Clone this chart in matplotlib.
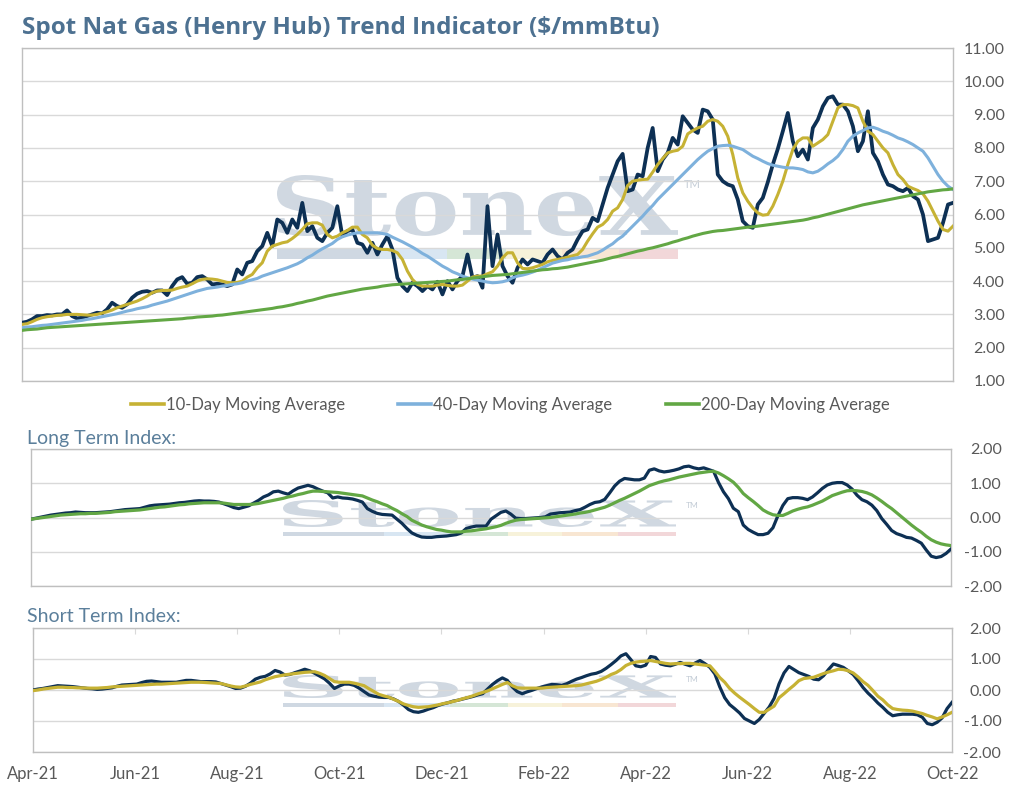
import numpy as np
import matplotlib
matplotlib.use("Agg")
import matplotlib.pyplot as plt
from matplotlib.textpath import TextPath
from matplotlib.patches import PathPatch, Rectangle
from matplotlib.font_manager import FontProperties
from matplotlib.transforms import Affine2D
from matplotlib.lines import Line2D
from matplotlib.ticker import FormatStrFormatter

# ---------------- data ----------------
month_labels = ["Apr-21", "Jun-21", "Aug-21", "Oct-21", "Dec-21", "Feb-22",
                "Apr-22", "Jun-22", "Aug-22", "Oct-22"]

spot = [
    2.75, 2.78, 2.85, 2.95, 2.95, 2.98, 2.97, 3.0, 3.0, 3.12,
    2.95, 2.88, 2.9, 2.95, 3.0, 3.05, 3.03, 3.15, 3.35, 3.25,
    3.2, 3.3, 3.5, 3.62, 3.68, 3.7, 3.65, 3.72, 3.72, 3.58,
    3.85, 4.05, 4.12, 3.92, 3.95, 4.12, 4.15, 4.05, 3.9, 3.92,
    3.9, 3.85, 3.9, 4.35, 4.2, 4.55, 4.6, 4.9, 5.05, 5.45,
    5.05, 5.85, 5.75, 5.45, 5.85, 5.6, 6.35, 5.5, 5.65, 5.3,
    5.2, 5.45, 5.6, 6.25, 5.35, 5.5, 5.55, 5.15, 5.1, 4.85,
    5.15, 4.8, 5.1, 5.35, 4.95, 4.1, 3.85, 3.7, 3.95, 3.85,
    3.7, 3.85, 3.75, 3.98, 3.6, 4.0, 3.75, 4.0, 4.15, 4.8,
    4.1, 4.15, 3.8, 6.25, 4.45, 5.4, 4.45, 4.15,
    3.95, 4.4, 4.65, 4.5, 4.65, 4.6, 4.55, 4.8, 4.95, 4.75,
    4.65, 4.85, 4.95, 5.25, 5.5, 5.55, 5.9, 5.8, 6.3, 6.8,
    7.2, 7.6, 7.82, 6.7, 6.75, 7.2, 7.15, 8.0, 8.6, 7.3,
    7.65, 7.85, 8.3, 8.1, 8.95, 8.75, 8.55, 8.45, 9.15, 9.1,
    8.85, 7.2, 7.0, 6.9,
    6.85, 6.45, 5.8, 5.65, 5.6, 6.3, 6.5, 6.97, 7.5, 7.97,
    8.5, 9.05, 8.2, 7.75, 7.95, 7.65, 8.6, 8.85, 9.25, 9.5,
    9.55, 9.3, 9.3, 9.1, 8.65, 7.9, 8.2, 9.1, 7.85, 7.6,
    7.2, 6.9, 6.85, 6.75, 6.7, 6.8, 6.55, 6.45, 6.0, 5.2,
    5.25, 5.3, 5.75, 6.3, 6.35,
]

ma10 = [
    2.7, 2.72, 2.78, 2.85, 2.9, 2.93, 2.95, 2.97, 2.98, 3.0,
    3.0, 3.0, 2.99, 2.98, 2.98, 3.0, 3.04, 3.08, 3.13, 3.2,
    3.25, 3.3, 3.35, 3.4, 3.47, 3.55, 3.65, 3.7, 3.72, 3.72,
    3.73, 3.78, 3.82, 3.85, 3.92, 4.0, 4.05, 4.07, 4.06, 4.04,
    4.0, 3.96, 3.95, 3.96, 4.0, 4.12, 4.2, 4.4, 4.55, 4.9,
    5.05, 5.1, 5.15, 5.18, 5.28, 5.4, 5.55, 5.72, 5.75, 5.75,
    5.68, 5.4, 5.3, 5.35, 5.45, 5.52, 5.62, 5.62, 5.4, 5.3,
    5.08, 4.98, 4.95, 4.95, 4.92, 4.85, 4.65, 4.3, 4.05, 3.9,
    3.85, 3.85, 3.85, 3.88, 3.9, 3.87, 3.85, 3.85, 3.88, 4.0,
    4.12, 4.15, 4.15, 4.22, 4.28, 4.45, 4.7, 4.85,
    4.85, 4.55, 4.38, 4.37, 4.4, 4.45, 4.5, 4.58, 4.62, 4.65,
    4.68, 4.72, 4.76, 4.8, 4.95, 5.2, 5.42, 5.62, 5.7, 5.85,
    6.1, 6.2, 6.45, 6.87, 7.0, 7.03, 7.05, 7.06, 7.27, 7.5,
    7.68, 7.85, 7.9, 7.93, 8.05, 8.42, 8.52, 8.6, 8.65, 8.8,
    8.85, 8.8, 8.65, 8.35,
    7.8, 7.1, 6.65, 6.4, 6.2, 6.05, 5.98, 6.0, 6.25, 6.6,
    7.0, 7.5, 7.95, 8.2, 8.3, 8.3, 8.05, 8.15, 8.25, 8.4,
    8.8, 9.2, 9.3, 9.3, 9.27, 9.2, 8.8, 8.5, 8.4, 8.2,
    8.0, 7.85, 7.5, 7.2, 7.05, 6.85, 6.78, 6.72, 6.62, 6.4,
    6.1, 5.8, 5.55, 5.5, 5.65,
]

ma40 = [
    2.6, 2.62, 2.63, 2.65, 2.67, 2.68, 2.7, 2.72, 2.74, 2.76,
    2.78, 2.8, 2.82, 2.85, 2.87, 2.9, 2.93, 2.96, 2.99, 3.02,
    3.06, 3.1, 3.13, 3.17, 3.2, 3.23, 3.28, 3.32, 3.36, 3.4,
    3.45, 3.5, 3.55, 3.6, 3.65, 3.7, 3.74, 3.78, 3.8, 3.82,
    3.85, 3.87, 3.9, 3.92, 3.95, 4.0, 4.04, 4.08, 4.15, 4.2,
    4.25, 4.3, 4.35, 4.4, 4.46, 4.52, 4.6, 4.7, 4.78, 4.88,
    4.97, 5.05, 5.13, 5.25, 5.33, 5.38, 5.42, 5.45, 5.45, 5.45,
    5.45, 5.45, 5.43, 5.4, 5.32, 5.25, 5.18, 5.1, 5.02, 4.93,
    4.83, 4.75, 4.65, 4.55, 4.45, 4.37, 4.28, 4.22, 4.15, 4.1,
    4.06, 4.03, 4.0, 3.97, 3.95, 3.96, 3.98, 4.02,
    4.1, 4.15, 4.18, 4.22, 4.27, 4.33, 4.4, 4.47, 4.54, 4.58,
    4.62, 4.64, 4.68, 4.7, 4.73, 4.75, 4.8, 4.85, 4.93, 5.03,
    5.12, 5.25, 5.35, 5.5, 5.65, 5.8, 5.95, 6.12, 6.27, 6.45,
    6.6, 6.75, 6.9, 7.05, 7.2, 7.35, 7.5, 7.65, 7.78, 7.9,
    7.98, 8.05, 8.07, 8.08,
    8.05, 8.0, 7.95, 7.85, 7.75, 7.68, 7.6, 7.53, 7.48, 7.45,
    7.42, 7.4, 7.4, 7.38, 7.35, 7.28, 7.25, 7.3, 7.4, 7.52,
    7.62, 7.75, 7.95, 8.2, 8.35, 8.45, 8.52, 8.6, 8.62, 8.57,
    8.5, 8.45, 8.38, 8.3, 8.25, 8.18, 8.1, 8.0, 7.9, 7.7,
    7.45, 7.2, 7.0, 6.85, 6.75,
]

ma200 = [
    2.52, 2.54, 2.55, 2.56, 2.58, 2.6, 2.61, 2.62, 2.63, 2.64,
    2.65, 2.66, 2.67, 2.68, 2.69, 2.7, 2.71, 2.72, 2.73, 2.74,
    2.75, 2.76, 2.77, 2.78, 2.79, 2.8, 2.81, 2.82, 2.83, 2.84,
    2.85, 2.86, 2.87, 2.89, 2.9, 2.92, 2.93, 2.94, 2.95, 2.97,
    2.98, 3.0, 3.02, 3.04, 3.06, 3.08, 3.1, 3.12, 3.14, 3.16,
    3.18, 3.21, 3.23, 3.26, 3.29, 3.33, 3.36, 3.4, 3.43, 3.47,
    3.51, 3.55, 3.58, 3.61, 3.64, 3.67, 3.7, 3.73, 3.76, 3.78,
    3.8, 3.82, 3.85, 3.87, 3.89, 3.9, 3.91, 3.92, 3.93, 3.94,
    3.95, 3.96, 3.97, 3.98, 3.99, 4.0, 4.02, 4.04, 4.05, 4.07,
    4.09, 4.11, 4.13, 4.15, 4.17, 4.18, 4.19, 4.2,
    4.22, 4.24, 4.26, 4.28, 4.3, 4.32, 4.34, 4.35, 4.37, 4.38,
    4.4, 4.42, 4.45, 4.48, 4.51, 4.54, 4.57, 4.6, 4.63, 4.67,
    4.71, 4.74, 4.78, 4.82, 4.86, 4.9, 4.93, 4.97, 5.0, 5.04,
    5.08, 5.12, 5.17, 5.21, 5.26, 5.3, 5.35, 5.39, 5.43, 5.46,
    5.49, 5.51, 5.52, 5.54, 5.56, 5.58, 5.6, 5.62, 5.63, 5.65,
    5.67, 5.69, 5.71, 5.73, 5.75, 5.77, 5.79, 5.81, 5.83, 5.86,
    5.9, 5.93, 5.97, 6.01, 6.05, 6.09, 6.13, 6.17, 6.21, 6.25,
    6.29, 6.32, 6.35, 6.38, 6.41, 6.44, 6.47, 6.5, 6.53, 6.56,
    6.59, 6.62, 6.65, 6.68, 6.7, 6.72, 6.74, 6.75, 6.77,
]

long_term_index = [
    -0.05, -0.02, 0.01, 0.04, 0.07, 0.09, 0.11, 0.13, 0.14, 0.16,
    0.15, 0.14, 0.14, 0.14, 0.15, 0.16, 0.17, 0.19, 0.21, 0.23,
    0.24, 0.25, 0.26, 0.3, 0.34, 0.36, 0.37, 0.38, 0.39, 0.41,
    0.43, 0.44, 0.46, 0.48, 0.49, 0.48, 0.48, 0.47, 0.45, 0.4,
    0.35, 0.29, 0.26, 0.3, 0.34, 0.42, 0.5, 0.6, 0.66, 0.75,
    0.77, 0.72, 0.68, 0.78, 0.86, 0.9, 0.94, 0.9, 0.83, 0.77,
    0.72, 0.57, 0.6, 0.57, 0.56, 0.54, 0.5, 0.45, 0.26, 0.18,
    0.12, 0.09, 0.08, 0.07, -0.05, -0.17, -0.32, -0.45, -0.52, -0.57,
    -0.58, -0.58, -0.56, -0.55, -0.54, -0.52, -0.5, -0.45, -0.32, -0.28,
    -0.25, -0.25, -0.25, -0.05, 0.05, 0.15, 0.19, 0.1, -0.02,
    -0.03, -0.03, -0.02, -0.01, 0.0, 0.02, 0.1, 0.12, 0.14, 0.15,
    0.16, 0.2, 0.23, 0.3, 0.38, 0.44, 0.46, 0.53, 0.72, 0.92,
    1.06, 1.14, 1.12, 1.1, 1.1, 1.15, 1.38, 1.42, 1.36, 1.33,
    1.35, 1.38, 1.42, 1.48, 1.5, 1.45, 1.42, 1.45, 1.4, 1.35,
    1.02, 0.75, 0.55, 0.27, 0.17, -0.22, -0.35, -0.43, -0.5, -0.5,
    -0.46, -0.3, 0.05, 0.35, 0.55, 0.58, 0.58, 0.56, 0.52, 0.6,
    0.72, 0.85, 0.95, 1.0, 1.02, 1.02, 0.95, 0.83, 0.65, 0.52,
    0.46, 0.36, 0.2, -0.03, -0.2, -0.38, -0.47, -0.52, -0.58, -0.6,
    -0.67, -0.75, -0.95, -1.13, -1.17, -1.14, -1.05, -0.92,
]

long_term_signal = [
    -0.05, -0.03, -0.01, 0.01, 0.03, 0.05, 0.07, 0.08, 0.09, 0.1,
    0.11, 0.11, 0.12, 0.12, 0.13, 0.14, 0.15, 0.17, 0.18, 0.19,
    0.2, 0.21, 0.22, 0.24, 0.26, 0.28, 0.3, 0.31, 0.33, 0.35,
    0.37, 0.38, 0.4, 0.41, 0.42, 0.43, 0.43, 0.43, 0.43, 0.42,
    0.4, 0.38, 0.38, 0.38, 0.38, 0.39, 0.41, 0.44, 0.47, 0.5,
    0.53, 0.56, 0.6, 0.63, 0.67, 0.7, 0.74, 0.77, 0.77, 0.76,
    0.75, 0.74, 0.73, 0.71, 0.69, 0.67, 0.65, 0.63, 0.57, 0.51,
    0.46, 0.4, 0.35, 0.27, 0.2, 0.11, 0.03, -0.08, -0.15, -0.22,
    -0.27, -0.31, -0.35, -0.37, -0.4, -0.42, -0.42, -0.42, -0.4, -0.39,
    -0.37, -0.35, -0.33, -0.3, -0.27, -0.23, -0.17, -0.12, -0.08,
    -0.06, -0.05, -0.04, -0.03, -0.02, -0.01, 0.0, 0.02, 0.04, 0.06,
    0.08, 0.1, 0.13, 0.15, 0.18, 0.22, 0.26, 0.3, 0.36, 0.43,
    0.5, 0.56, 0.63, 0.7, 0.77, 0.85, 0.93, 0.98, 1.03, 1.07,
    1.1, 1.14, 1.18, 1.21, 1.24, 1.27, 1.3, 1.32, 1.34, 1.35,
    1.3, 1.22, 1.13, 1.03, 0.88, 0.7, 0.58, 0.47, 0.35, 0.22,
    0.14, 0.08, 0.06, 0.06, 0.12, 0.19, 0.24, 0.28, 0.31, 0.36,
    0.42, 0.48, 0.56, 0.64, 0.69, 0.74, 0.78, 0.79, 0.78, 0.76,
    0.72, 0.66, 0.57, 0.47, 0.36, 0.26, 0.14, 0.02, -0.1, -0.22,
    -0.33, -0.43, -0.55, -0.65, -0.72, -0.77, -0.8, -0.82,
]

short_term_index = [
    0.0, 0.03, 0.05, 0.08, 0.11, 0.14, 0.13, 0.12, 0.11, 0.09,
    0.07, 0.05, 0.04, 0.02, 0.03, 0.05, 0.07, 0.12, 0.16, 0.17,
    0.18, 0.19, 0.24, 0.28, 0.29, 0.27, 0.25, 0.25, 0.25, 0.25,
    0.28, 0.31, 0.31, 0.29, 0.27, 0.27, 0.27, 0.26, 0.21, 0.16,
    0.11, 0.05, 0.06, 0.12, 0.22, 0.35, 0.41, 0.44, 0.52, 0.63,
    0.58, 0.48, 0.5, 0.56, 0.61, 0.67, 0.62, 0.54, 0.45, 0.36,
    0.22, 0.05, 0.13, 0.19, 0.19, 0.15, 0.06, -0.05, -0.16, -0.2,
    -0.23, -0.24, -0.24, -0.29, -0.37, -0.49, -0.63, -0.7, -0.72, -0.68,
    -0.62, -0.57, -0.5, -0.45, -0.41, -0.36, -0.33, -0.29, -0.25, -0.21,
    -0.16, -0.12, 0.03, 0.18, 0.3, 0.39, 0.31, 0.1, -0.05, -0.12,
    -0.06, -0.01, 0.05, 0.1, 0.14, 0.18, 0.17, 0.15, 0.2, 0.28,
    0.35, 0.4, 0.46, 0.51, 0.54, 0.6, 0.7, 0.82, 0.95, 1.1,
    1.17, 0.98, 0.78, 0.75, 0.8, 1.08, 1.05, 0.84, 0.8, 0.78,
    0.83, 0.89, 0.83, 0.78, 0.87, 0.95, 0.85, 0.73, 0.52, 0.1,
    -0.25, -0.47, -0.6, -0.74, -0.92, -1.0, -1.08, -0.95, -0.75, -0.55,
    -0.27, 0.2, 0.55, 0.76, 0.66, 0.56, 0.5, 0.44, 0.35, 0.33,
    0.46, 0.66, 0.84, 0.79, 0.73, 0.62, 0.5, 0.3, 0.08, -0.1,
    -0.25, -0.42, -0.56, -0.72, -0.83, -0.8, -0.78, -0.78, -0.78, -0.8,
    -0.88, -1.08, -1.12, -1.04, -0.9, -0.6, -0.4,
]

short_term_signal = [
    -0.02, 0.0, 0.03, 0.05, 0.07, 0.09, 0.09, 0.08, 0.08, 0.07,
    0.07, 0.06, 0.06, 0.06, 0.07, 0.08, 0.1, 0.11, 0.12, 0.13,
    0.14, 0.15, 0.16, 0.17, 0.18, 0.19, 0.19, 0.2, 0.21, 0.22,
    0.23, 0.24, 0.25, 0.25, 0.25, 0.24, 0.23, 0.22, 0.21, 0.17,
    0.13, 0.1, 0.09, 0.13, 0.18, 0.22, 0.26, 0.33, 0.38, 0.43,
    0.46, 0.49, 0.51, 0.53, 0.55, 0.57, 0.58, 0.59, 0.54, 0.47,
    0.37, 0.27, 0.25, 0.25, 0.25, 0.22, 0.18, 0.14, 0.04, -0.05,
    -0.14, -0.19, -0.23, -0.3, -0.37, -0.45, -0.5, -0.54, -0.56, -0.55,
    -0.54, -0.51, -0.48, -0.44, -0.41, -0.37, -0.33, -0.28, -0.24, -0.19,
    -0.13, -0.08, -0.03, 0.04, 0.11, 0.18, 0.24, 0.14, 0.07, 0.06,
    0.06, 0.06, 0.06, 0.06, 0.08, 0.09, 0.1, 0.11, 0.12, 0.13,
    0.14, 0.16, 0.2, 0.24, 0.28, 0.34, 0.41, 0.5, 0.56, 0.66,
    0.79, 0.86, 0.9, 0.92, 0.93, 0.95, 0.92, 0.89, 0.86, 0.84,
    0.85, 0.85, 0.86, 0.86, 0.84, 0.82, 0.8, 0.78, 0.6, 0.4,
    0.25, 0.05, -0.1, -0.23, -0.35, -0.47, -0.6, -0.72, -0.72, -0.62,
    -0.52, -0.25, -0.12, 0.02, 0.15, 0.3, 0.37, 0.39, 0.41, 0.47,
    0.53, 0.58, 0.62, 0.67, 0.66, 0.62, 0.55, 0.42, 0.27, 0.15,
    -0.02, -0.2, -0.32, -0.48, -0.6, -0.63, -0.65, -0.66, -0.68, -0.72,
    -0.76, -0.82, -0.87, -0.93, -0.87, -0.8, -0.72,
]

legend_labels = ["10-Day Moving Average", "40-Day Moving Average", "200-Day Moving Average"]

# ---------------- style ----------------
NAVY = "#0d3054"
GOLD = "#c6b234"
BLUE = "#7eb1dc"
GREEN = "#62a744"
TITLE_C = "#4d7191"
SUB_C = "#5b7f9b"
TICK_C = "#595959"
GRID_C = "#d9d9d9"
FRAME_C = "#bfbfbf"
FONT = ["Lato", "DejaVu Sans"]

plt.rcParams["font.family"] = FONT

W, H = 1022, 786
fig = plt.figure(figsize=(W / 100, H / 100), dpi=100)
fig.patch.set_facecolor("white")


def box(l, t, r, b):
    return [l / W, 1 - b / H, (r - l) / W, (b - t) / H]


ax1 = fig.add_axes(box(22, 48, 953, 381))
ax2 = fig.add_axes(box(31, 449, 951, 586))
ax3 = fig.add_axes(box(33, 628, 952, 752))

n = len(spot)
x = np.arange(n)


def watermark(ax, l, t, r, b, bt, bb, tm_xy, tm_size):
    tp = TextPath((0, 0), "StoneX", size=1,
                  prop=FontProperties(family="DejaVu Serif", weight="bold"))
    ext = tp.get_extents()
    sx = (r - l) / ext.width
    sy = (b - t) / ext.height
    tr = (Affine2D().translate(-ext.x0, -ext.y0).scale(sx / W, sy / H)
          .translate(l / W, 1 - b / H) + fig.transFigure)
    ax.add_patch(PathPatch(tp, transform=tr, facecolor="#d0d8e1",
                           edgecolor="none", zorder=0.3, clip_on=False))
    fracs = [0, 0.256, 0.425, 0.572, 0.711, 0.853, 1.0]
    cols = ["#cfd8e2", "#d8e6f2", "#d5e6d6", "#f7f2da", "#f8e6d2", "#f2d7d9"]
    for k in range(6):
        x0 = l + fracs[k] * (r - l)
        x1 = l + fracs[k + 1] * (r - l)
        ax.add_patch(Rectangle((x0 / W, 1 - bb / H), (x1 - x0) / W, (bb - bt) / H,
                               transform=fig.transFigure, facecolor=cols[k],
                               edgecolor="none", zorder=0.3, clip_on=False))
    ax.text(tm_xy[0] / W, 1 - tm_xy[1] / H, "TM", transform=fig.transFigure,
            fontsize=tm_size, color="#c3ccd6", ha="left", va="center", zorder=0.3)


watermark(ax1, 277, 175, 678, 236, 249, 259, (684, 184), 8)
watermark(ax2, 283, 500, 676, 527, 532, 536, (686, 506), 6)
watermark(ax3, 283, 675, 676, 698, 703, 707, (686, 679), 6)

# ---------------- top panel ----------------
ax1.plot(x, spot, color=NAVY, lw=2.7, zorder=3, solid_joinstyle="round")
ax1.plot(x, ma10, color=GOLD, lw=2.2, zorder=4)
ax1.plot(x, ma40, color=BLUE, lw=2.2, zorder=5)
ax1.plot(x, ma200, color=GREEN, lw=2.2, zorder=6)
ax1.set_ylim(1, 11)
ax1.set_yticks(np.arange(1, 12))

# ---------------- middle panel ----------------
ax2.plot(x, long_term_index, color=NAVY, lw=2.3, zorder=3)
ax2.plot(x, long_term_signal, color=GREEN, lw=2.3, zorder=4)
ax2.set_ylim(-2, 2)
ax2.set_yticks(np.arange(-2, 3))

# ---------------- bottom panel ----------------
ax3.plot(x, short_term_index, color=NAVY, lw=2.3, zorder=3)
ax3.plot(x, short_term_signal, color=GOLD, lw=2.3, zorder=4)
ax3.set_ylim(-2, 2)
ax3.set_yticks(np.arange(-2, 3))

for ax, pad in ((ax1, 37.5), (ax2, 36.5), (ax3, 35.5)):
    ax.set_xlim(0, n - 1)
    ax.set_facecolor("none")
    ax.set_axisbelow(True)
    ax.grid(axis="y", color=GRID_C, lw=1.0, zorder=0.5)
    for s in ax.spines.values():
        s.set_color(FRAME_C)
        s.set_linewidth(1.0)
    ax.yaxis.tick_right()
    ax.yaxis.set_major_formatter(FormatStrFormatter("%.2f"))
    ax.tick_params(axis="y", length=0, pad=pad, labelsize=11.5, labelcolor=TICK_C)
    for lab in ax.get_yticklabels():
        lab.set_horizontalalignment("right")
    ax.set_xticks([])

ax3.set_xticks(np.linspace(0, n - 1, len(month_labels)))
ax3.set_xticklabels(month_labels)
ax3.tick_params(axis="x", bottom=False, top=True, direction="in", length=4,
                color=GRID_C, labelbottom=True, labeltop=False,
                labelsize=12, labelcolor=TICK_C, pad=10)

# ---------------- texts ----------------
fig.text(22 / W, 1 - 28 / H, "Spot Nat Gas (Henry Hub) Trend Indicator ($/mmBtu)",
         fontsize=17.5, fontweight="bold", color=TITLE_C, ha="left", va="center",
         family=["Open Sans", "DejaVu Sans"])
fig.text(27 / W, 1 - 438 / H, "Long Term Index:", fontsize=14, color=SUB_C,
         ha="left", va="center")
fig.text(27 / W, 1 - 616 / H, "Short Term Index:", fontsize=14, color=SUB_C,
         ha="left", va="center")

handles = [Line2D([], [], color=c, lw=2.6) for c in (GOLD, BLUE, GREEN)]
fig.legend(handles, legend_labels, loc="center", bbox_to_anchor=(510 / W, 1 - 405 / H),
           ncol=3, frameon=False, fontsize=12, handlelength=2.0, handletextpad=0.1,
           columnspacing=3.2, labelcolor=TICK_C)

fig.savefig("out.png", dpi=100, facecolor="white")
